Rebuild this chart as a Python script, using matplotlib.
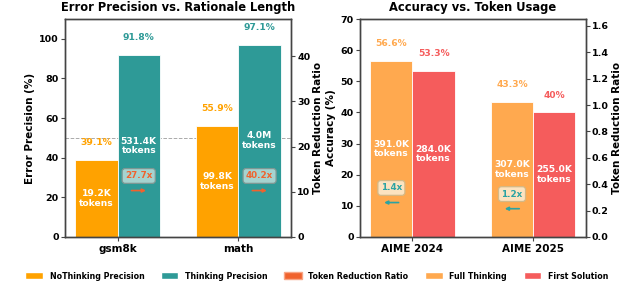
import matplotlib
matplotlib.use("Agg")
import matplotlib.pyplot as plt
import numpy as np
from matplotlib.patches import Patch

# left panel: error precision vs rationale length
datasets = ["gsm8k", "math"]
nothink_prec = [39.1, 55.9]
think_prec = [91.8, 97.1]
nothink_tokens = ["19.2K", "99.8K"]
think_tokens = ["531.4K", "4.0M"]
left_ratio = [27.7, 40.2]

# right panel: accuracy vs token usage
benchmarks = ["AIME 2024", "AIME 2025"]
full_acc = [56.6, 43.3]
first_acc = [53.3, 40.0]
full_tokens = ["391.0K", "307.0K"]
first_tokens = ["284.0K", "255.0K"]
right_ratio = [391.0 / 284.0, 307.0 / 255.0]

C_NOTHINK = "#FFA200"
C_THINK = "#2E9A97"
C_RATIO = "#F0622D"
C_FULL = "#FFA94F"
C_FIRST = "#F55C5C"
SPINE = "#444444"

plt.rcParams["font.family"] = "DejaVu Sans"
plt.rcParams["font.weight"] = "bold"

fig = plt.figure(figsize=(6.4, 3.06), dpi=100)
ax1 = fig.add_axes([0.1016, 0.2255, 0.3531, 0.7124])
ax2 = fig.add_axes([0.5625, 0.2255, 0.3525, 0.7124])

w = 0.35


def style_axes(ax, twin):
    for a in (ax, twin):
        for s in a.spines.values():
            s.set_color(SPINE)
            s.set_linewidth(1.0)
        a.tick_params(labelsize=6.8, length=3, width=0.8, color=SPINE, pad=1.5)
        for lab in a.get_yticklabels():
            lab.set_fontweight("bold")
    ax.tick_params(axis="x", labelsize=7.5, pad=2)
    for lab in ax.get_xticklabels():
        lab.set_fontweight("bold")


def bar_labels(ax, bars, values, tokens, color):
    for b, v, t in zip(bars, values, tokens):
        x = b.get_x() + b.get_width() / 2
        ax.annotate(f"{v:g}%", (x, v), xytext=(0, 12.5), textcoords="offset points",
                    ha="center", va="center", color=color, fontsize=6.6, fontweight="bold")
        ax.text(x, v / 2, f"{t}\ntokens", ha="center", va="center", color="white",
                fontsize=6.6, fontweight="bold", linespacing=1.1)


def ratio_mark(ax, x, y, text, tcolor, face, edge, direction):
    tr = ax.get_xaxis_transform()
    ax.text(x, y, text, transform=tr, ha="center", va="center", color=tcolor,
            fontsize=6.3, fontweight="bold", zorder=5,
            bbox=dict(boxstyle="round,pad=0.33", fc=face, ec=edge, lw=0.9))
    ya = y - 0.067
    ax.annotate("", xy=(x - 0.06 * direction, ya), xytext=(x + 0.06 * direction, ya),
                xycoords=tr, textcoords=tr, zorder=5,
                arrowprops=dict(arrowstyle="-|>", color=tcolor, lw=1.2,
                                mutation_scale=5, shrinkA=0, shrinkB=0))


# ---- left panel
x = np.arange(len(datasets))
b1 = ax1.bar(x - w / 2, nothink_prec, w, color=C_NOTHINK, edgecolor="white", linewidth=0.6)
b2 = ax1.bar(x + w / 2, think_prec, w, color=C_THINK, edgecolor="white", linewidth=0.6)
ax1.axhline(50, color="#AAAAAA", ls="--", lw=0.7, zorder=0)
ax1.set_ylim(0, 110)
ax1.set_yticks(np.arange(0, 101, 20))
ax1.set_xticks(x)
ax1.set_xticklabels(datasets)
ax1.set_ylabel("Error Precision (%)", fontsize=7.5, fontweight="bold", labelpad=3)
ax1.set_title("Error Precision vs. Rationale Length", fontsize=8.3, fontweight="bold", pad=6)
bar_labels(ax1, b1, nothink_prec, nothink_tokens, C_NOTHINK)
bar_labels(ax1, b2, think_prec, think_tokens, C_THINK)
tw1 = ax1.twinx()
tw1.set_ylim(0, max(left_ratio) * 1.2)
tw1.set_yticks(np.arange(0, 41, 10))
tw1.set_ylabel("Token Reduction Ratio", fontsize=7.5, fontweight="bold", labelpad=2)
for xi, r in zip(x, left_ratio):
    ratio_mark(ax1, xi + w / 2, 0.28, f"{r:.1f}x", C_RATIO, "#A6D3CF", "#7F9894", -1)
style_axes(ax1, tw1)

# ---- right panel
x = np.arange(len(benchmarks))
b3 = ax2.bar(x - w / 2, full_acc, w, color=C_FULL, edgecolor="white", linewidth=0.6)
b4 = ax2.bar(x + w / 2, first_acc, w, color=C_FIRST, edgecolor="white", linewidth=0.6)
ax2.set_ylim(0, 70)
ax2.set_yticks(np.arange(0, 71, 10))
ax2.set_xticks(x)
ax2.set_xticklabels(benchmarks)
ax2.set_ylabel("Accuracy (%)", fontsize=7.5, fontweight="bold", labelpad=3)
ax2.set_title("Accuracy vs. Token Usage", fontsize=8.3, fontweight="bold", pad=6)
bar_labels(ax2, b3, full_acc, full_tokens, C_FULL)
bar_labels(ax2, b4, first_acc, first_tokens, C_FIRST)
tw2 = ax2.twinx()
rmax = max(right_ratio) * 1.2
tw2.set_ylim(0, rmax)
tw2.set_yticks(np.arange(0, 1.61, 0.2))
tw2.set_yticklabels([f"{v:.1f}" for v in np.arange(0, 1.61, 0.2)])
tw2.set_ylabel("Token Reduction Ratio", fontsize=7.5, fontweight="bold", labelpad=2)
for xi, r in zip(x, right_ratio):
    ratio_mark(ax2, xi - w / 2, r * 0.27 / rmax, f"{r:.1f}x", "#2BA3A3", "#FCE3C0", "#D4B886", 1)
style_axes(ax2, tw2)

handles = [
    Patch(facecolor=C_NOTHINK, edgecolor="white"),
    Patch(facecolor=C_THINK, edgecolor="white"),
    Patch(facecolor=C_RATIO, edgecolor="#F8A585", linewidth=1.0),
    Patch(facecolor=C_FULL, edgecolor="white"),
    Patch(facecolor=C_FIRST, edgecolor="white"),
]
labels = ["NoThinking Precision", "Thinking Precision", "Token Reduction Ratio",
          "Full Thinking", "First Solution"]
fig.legend(handles, labels, loc="center", bbox_to_anchor=(0.495, 0.098), ncol=5,
           frameon=False, prop=dict(size=5.7, weight="bold"), handlelength=2.2,
           handleheight=0.9, handletextpad=0.85, columnspacing=2.1)

fig.savefig("out.png", dpi=100, facecolor="white")
